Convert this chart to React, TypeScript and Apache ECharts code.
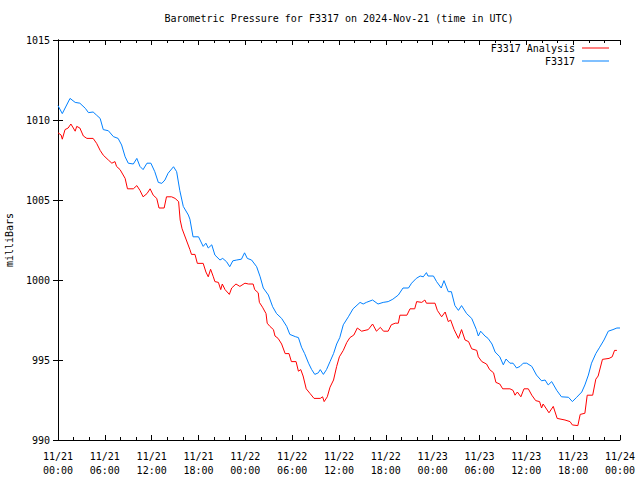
import React, { useEffect, useRef } from "react";
import * as echarts from "echarts";

const titleText = "Barometric Pressure for F3317 on 2024-Nov-21 (time in UTC)";
const yAxisName = "milliBars";
const analysisName = "F3317 Analysis";
const stationName = "F3317";

// hours since 2024-11-21 00:00 UTC
const stationHours = [
  0.0, 0.55, 1.54, 2.2, 2.8, 3.5, 3.9, 4.5, 4.95, 5.4, 5.8, 6.45, 7.1, 7.7, 8.15, 8.6, 9.0, 9.65,
  10.1, 10.5, 10.9, 11.4, 11.9, 12.4, 12.85, 13.3, 13.7, 14.1, 14.8, 15.2, 15.6, 16.05, 16.7, 16.9,
  17.3, 18.0, 18.6, 18.95, 19.25, 19.7, 20.1, 20.75, 21.1, 21.6, 22.0, 22.4, 22.9, 23.5, 23.9, 24.25,
  24.8, 25.45, 25.9, 26.3, 26.95, 27.5, 28.0, 28.65, 29.3, 29.7, 30.4, 30.8, 31.2, 31.6, 32.1, 32.5,
  32.9, 33.35, 33.6, 34.0, 34.4, 34.85, 35.3, 35.7, 36.1, 36.55, 37.2, 37.8, 38.7, 39.1, 39.5, 40.3,
  41.0, 41.66, 42.3, 42.9, 43.6, 44.2, 44.9, 45.3, 45.9, 46.4, 46.8, 47.2, 47.4, 48.1, 48.5, 49.1,
  49.45, 50.0, 50.4, 50.85, 51.3, 51.7, 52.35, 53.0, 53.6, 53.85, 54.15, 54.7, 55.1, 55.6, 56.0, 56.6,
  57.05, 57.4, 57.9, 58.3, 58.75, 59.2, 59.6, 60.05, 60.7, 61.3, 61.95, 62.4, 62.8, 63.25, 63.9, 64.5,
  65.4, 65.9, 66.45, 67.1, 67.5, 67.95, 68.35, 68.9, 69.4, 69.95, 70.5, 71.1, 71.6, 72.0,
];
const stationValues = [
  1010.9, 1010.4, 1011.35, 1011.1, 1011.05, 1010.73, 1010.46, 1010.5, 1010.3, 1010.1, 1009.4, 1009.33,
  1008.96, 1008.85, 1008.44, 1007.7, 1007.3, 1007.25, 1007.6, 1007.1, 1006.9, 1007.3, 1007.3, 1006.77,
  1006.1, 1006.04, 1006.25, 1006.67, 1007.08, 1006.77, 1005.6, 1004.6, 1004.06, 1003.8, 1002.7, 1002.7,
  1002.1, 1002.3, 1002.0, 1002.2, 1001.56, 1001.25, 1001.35, 1001.14, 1000.83, 1001.2, 1001.25, 1001.3,
  1001.7, 1001.35, 1001.25, 1000.83, 1000.2, 999.5, 999.06, 998.33, 997.9, 997.6, 997.1, 996.6, 996.46,
  996.4, 995.8, 995.4, 994.8, 994.4, 994.1, 994.2, 994.4, 994.1, 994.4, 994.9, 995.4, 996.0, 996.4,
  997.2, 997.7, 998.2, 998.6, 998.5, 998.6, 998.75, 998.5, 998.6, 998.65, 998.8, 999.06, 999.5, 999.5,
  999.8, 1000.1, 1000.25, 1000.2, 1000.46, 1000.25, 1000.25, 999.9, 999.5, 999.96, 999.27, 999.27,
  998.4, 998.1, 998.4, 997.9, 997.6, 996.9, 996.5, 996.8, 996.5, 996.35, 996.0, 995.5, 995.2, 994.7,
  995.06, 994.8, 994.8, 994.5, 994.6, 994.8, 994.8, 994.6, 994.06, 993.7, 993.75, 993.44, 993.65,
  993.1, 992.7, 992.67, 992.4, 992.67, 993.0, 993.44, 994.06, 994.8, 995.4, 995.8, 996.25, 996.8,
  996.9, 997.0, 997.0,
];

const analysisHours = [
  0.0, 0.4, 0.55, 0.9, 1.3, 1.65, 1.96, 2.2, 2.4, 2.8, 3.25, 3.7, 4.5, 4.95, 5.4, 5.8, 6.45, 6.9, 7.3,
  7.5, 7.95, 8.6, 8.9, 9.65, 10.1, 10.5, 10.9, 11.4, 11.8, 12.2, 12.65, 12.94, 13.6, 13.9, 14.55, 15.0,
  15.45, 15.65, 15.9, 16.9, 17.1, 17.55, 17.85, 18.6, 18.95, 19.25, 19.55, 19.9, 20.1, 20.55, 20.85,
  21.05, 21.4, 21.95, 22.25, 22.8, 23.3, 23.95, 24.4, 25.0, 25.2, 25.65, 25.8, 26.2, 26.65, 26.8, 27.15,
  27.6, 27.8, 28.2, 28.65, 29.1, 29.6, 29.9, 30.5, 30.8, 31.1, 31.4, 31.8, 32.3, 32.8, 33.6, 33.9, 34.1,
  34.5, 34.85, 35.3, 35.7, 36.05, 36.55, 37.0, 37.4, 37.9, 38.35, 38.9, 39.75, 40.3, 40.8, 41.3, 41.7,
  42.3, 42.7, 43.2, 43.6, 43.8, 44.7, 45.1, 45.7, 45.95, 46.6, 47.0, 47.2, 48.3, 48.6, 49.15, 49.6,
  50.0, 50.3, 50.75, 51.3, 51.7, 52.15, 52.6, 53.0, 53.65, 53.85, 54.3, 54.9, 55.3, 55.8, 56.1, 56.6,
  56.97, 57.9, 58.3, 58.55, 58.85, 59.3, 59.7, 60.25, 60.7, 61.2, 61.7, 61.95, 62.15, 62.5, 62.9, 63.45,
  63.95, 64.95, 65.6, 65.9, 66.6, 66.9, 67.5, 67.8, 68.5, 68.9, 69.2, 69.75, 70.6, 71.0, 71.3, 71.6,
];
const analysisValues = [
  1009.2, 1009.06, 1008.8, 1009.4, 1009.5, 1009.75, 1009.5, 1009.3, 1009.6, 1009.5, 1009.0, 1008.85,
  1008.85, 1008.54, 1008.1, 1007.8, 1007.5, 1007.3, 1007.4, 1007.1, 1006.9, 1006.35, 1005.7, 1005.7,
  1005.9, 1005.6, 1005.2, 1005.4, 1005.7, 1005.3, 1005.1, 1004.5, 1004.5, 1005.2, 1005.2, 1005.1,
  1004.9, 1003.75, 1003.2, 1001.9, 1001.6, 1001.6, 1001.04, 1001.04, 1000.5, 1000.2, 1000.67, 1000.2,
  999.9, 999.85, 999.4, 999.75, 999.4, 999.1, 999.5, 999.75, 999.6, 999.8, 999.75, 999.75, 999.4,
  999.2, 998.6, 998.3, 997.9, 997.3, 997.1, 996.9, 996.5, 996.35, 996.0, 995.4, 995.4, 994.9, 994.9,
  994.3, 994.4, 994.0, 993.2, 992.9, 992.6, 992.6, 992.7, 992.4, 992.7, 993.3, 993.75, 994.6, 995.2,
  995.6, 996.1, 996.4, 996.56, 997.0, 996.8, 996.9, 997.25, 996.8, 997.04, 996.8, 996.8, 997.2, 997.3,
  997.3, 997.8, 997.8, 998.2, 998.2, 998.65, 998.6, 998.75, 998.55, 998.55, 998.1, 997.7, 998.0,
  997.4, 997.5, 996.9, 996.35, 996.9, 996.25, 996.15, 995.7, 995.6, 995.2, 994.9, 994.75, 994.4,
  994.2, 993.6, 993.5, 993.2, 993.2, 993.1, 992.8, 993.0, 992.7, 993.2, 993.2, 992.8, 992.46, 992.4,
  992.0, 992.25, 992.0, 991.7, 992.1, 991.35, 991.25, 991.15, 990.94, 990.9, 991.6, 991.67, 992.8,
  992.8, 993.8, 994.0, 995.04, 995.1, 995.2, 995.6, 995.6,
];

const xMin = 0;
const xMax = 72;
const xInterval = 6;
const yMin = 990;
const yMax = 1015;
const yInterval = 5;
const startDay = 21;
const monthLabel = "11";

const FONT = "'DejaVu Sans Mono', monospace";

function formatHour(h: number): string {
  const day = startDay + Math.floor(h / 24);
  const hh = Math.round(h % 24);
  return `${monthLabel}/${day}\n${String(hh).padStart(2, "0")}:00`;
}

export default function App() {
  const ref = useRef<HTMLDivElement>(null);
  useEffect(() => {
    if (!ref.current) return;
    const chart = echarts.init(ref.current, undefined, { renderer: "svg" });
    const axisLine = { show: true, lineStyle: { color: "#000", width: 1 } };
    const xCommon = {
      type: "value" as const,
      min: xMin,
      max: xMax,
      interval: xInterval,
      axisLine,
      axisTick: { show: true, inside: true, length: 5, lineStyle: { color: "#000" } },
      minorTick: { show: true, splitNumber: 3, length: 3, lineStyle: { color: "#000" } },
      splitLine: { show: false },
      minorSplitLine: { show: false },
    };
    const yCommon = {
      type: "value" as const,
      min: yMin,
      max: yMax,
      interval: yInterval,
      axisLine,
      axisTick: { show: true, inside: true, length: 5, lineStyle: { color: "#000" } },
      splitLine: { show: false },
    };
    const legendCommon = {
      right: 31,
      align: "right" as const,
      icon: "rect",
      itemWidth: 27,
      itemHeight: 1,
      padding: 0,
      textStyle: { fontFamily: FONT, fontSize: 10, color: "#000", padding: [0, 2, 0, 0] },
    };
    chart.setOption({
      animation: false,
      backgroundColor: "#fff",
      title: {
        text: titleText,
        left: 339,
        top: 13,
        padding: 0,
        textAlign: "center",
        textStyle: { fontFamily: FONT, fontSize: 10, fontWeight: "normal", color: "#000" },
      },
      legend: [
        { ...legendCommon, data: [analysisName], top: 43 },
        { ...legendCommon, data: [stationName], top: 56 },
      ],
      grid: {
        left: 58,
        right: 20,
        top: 40,
        bottom: 40,
        containLabel: false,
        outerBoundsMode: "none",
      },
      xAxis: [
        {
          ...xCommon,
          position: "bottom",
          axisLabel: {
            show: true,
            margin: 9,
            fontFamily: FONT,
            fontSize: 10,
            color: "#000",
            lineHeight: 14,
            formatter: (v: number) => formatHour(v),
          },
        },
        {
          ...xCommon,
          position: "top",
          axisLabel: { show: false },
        },
      ],
      yAxis: [
        {
          ...yCommon,
          position: "left",
          name: yAxisName,
          nameLocation: "middle",
          nameRotate: 90,
          nameGap: 44,
          nameTextStyle: { fontFamily: FONT, fontSize: 10, color: "#000" },
          axisLabel: {
            show: true,
            margin: 8,
            fontFamily: FONT,
            fontSize: 10,
            color: "#000",
            formatter: (v: number) => String(v),
          },
        },
        {
          ...yCommon,
          position: "right",
          axisLabel: { show: false },
        },
      ],
      series: [
        {
          name: analysisName,
          type: "line",
          xAxisIndex: 0,
          yAxisIndex: 0,
          symbol: "none",
          color: "#ff0000",
          lineStyle: { color: "#ff0000", width: 1 },
          data: analysisHours.map((h, i) => [h, analysisValues[i]]),
        },
        {
          name: stationName,
          type: "line",
          xAxisIndex: 0,
          yAxisIndex: 0,
          symbol: "none",
          color: "#0080ff",
          lineStyle: { color: "#0080ff", width: 1 },
          data: stationHours.map((h, i) => [h, stationValues[i]]),
        },
      ],
    });
    return () => chart.dispose();
  }, []);
  return (
    <div
      ref={ref}
      style={{ position: "absolute", left: 0, top: 0, width: 640, height: 480 }}
    />
  );
}
